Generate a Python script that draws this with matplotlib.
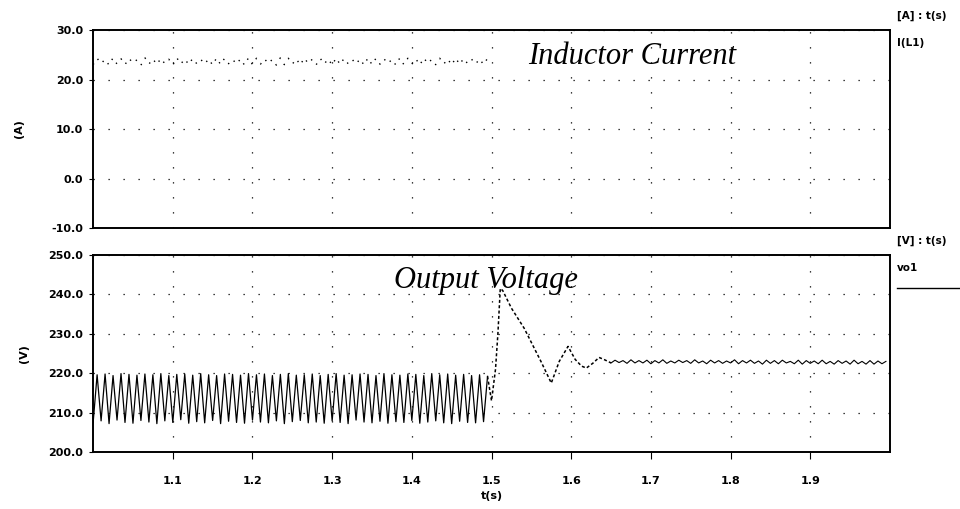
import numpy as np
import matplotlib.pyplot as plt

# ---- data ----
# 1.0 - 1.5 s : 100 Hz ripple, one trough + one peak per 10 ms
vo_trough = [207.4, 207.9, 207.2, 208.1, 207.5, 207.3, 208.0, 207.6, 207.2, 207.9,
             207.5, 208.2, 207.3, 207.7, 207.4, 208.0, 207.2, 207.8, 207.5, 207.3,
             208.1, 207.6, 207.4, 207.9, 207.2, 207.7, 208.0, 207.4, 207.6, 207.3,
             207.9, 207.5, 207.2, 208.1, 207.6, 207.4, 207.8, 207.3, 207.7, 207.5,
             208.0, 207.3, 207.6, 207.9, 207.4, 207.2, 207.8, 207.5, 207.4, 207.7]
vo_peak = [219.6, 219.8, 219.4, 219.9, 219.7, 219.5, 219.8, 219.6, 219.9, 219.4,
           219.7, 219.8, 219.5, 219.9, 219.6, 219.4, 219.8, 219.7, 219.5, 219.9,
           219.6, 219.8, 219.4, 219.7, 219.9, 219.5, 219.6, 219.8, 219.4, 219.7,
           219.9, 219.5, 219.6, 219.8, 219.7, 219.4, 219.9, 219.6, 219.5, 219.8,
           219.7, 219.4, 219.9, 219.6, 219.8, 219.5, 219.7, 219.4, 219.6, 219.2]
il_trough = [23.0, 23.2, 22.9, 23.1, 23.0, 23.3, 22.9, 23.1, 23.0, 23.2,
             22.9, 23.1, 23.0, 23.2, 23.1, 22.9, 23.0, 23.2, 23.1, 22.9,
             23.0, 23.1, 23.2, 22.9, 23.0, 23.1, 22.9, 23.2, 23.0, 23.1,
             22.9, 23.0, 23.2, 23.1, 22.9, 23.0, 23.1, 23.2, 22.9, 23.0,
             23.1, 22.9, 23.2, 23.0, 23.1, 22.9, 23.0, 23.2, 23.1, 23.0]
il_peak = [24.3, 24.1, 24.4, 24.2, 24.3, 24.0, 24.4, 24.2, 24.3, 24.1,
           24.4, 24.2, 24.3, 24.1, 24.2, 24.4, 24.3, 24.1, 24.2, 24.4,
           24.3, 24.2, 24.1, 24.4, 24.3, 24.2, 24.4, 24.1, 24.3, 24.2,
           24.4, 24.3, 24.1, 24.2, 24.4, 24.3, 24.2, 24.1, 24.4, 24.3,
           24.2, 24.4, 24.1, 24.3, 24.2, 24.4, 24.3, 24.1, 24.2, 24.3]

# step response after 1.5 s
t_trans = [1.495, 1.500, 1.505, 1.508, 1.511, 1.514, 1.525, 1.541, 1.562, 1.575,
           1.585, 1.596, 1.605, 1.613, 1.619, 1.627, 1.635, 1.642, 1.650]
vo_trans = [219.2, 213.0, 221.0, 230.0, 241.5, 241.0, 236.5, 231.4, 223.0, 217.5,
            223.0, 226.8, 223.5, 221.8, 221.3, 222.5, 224.0, 223.4, 222.6]

# settled ripple 1.65 - 2.0 s
vo_set_lo = [222.6, 222.7, 222.5, 222.6, 222.6, 222.4, 222.6, 222.5, 222.6, 222.7,
             222.5, 222.6, 222.4, 222.6, 222.5, 222.6, 222.4, 222.6, 222.5, 222.3,
             222.5, 222.4, 222.6, 222.4, 222.3, 222.5, 222.4, 222.4, 222.3, 222.5,
             222.3, 222.4, 222.3, 222.3, 222.4]
vo_set_hi = [223.3, 223.2, 223.4, 223.2, 223.3, 223.2, 223.4, 223.1, 223.3, 223.2,
             223.4, 223.1, 223.3, 223.2, 223.1, 223.4, 223.2, 223.3, 223.1, 223.3,
             223.2, 223.3, 223.0, 223.3, 223.2, 223.1, 223.3, 223.0, 223.2, 223.1,
             223.3, 223.0, 223.2, 223.1, 223.0]

half_period = 0.005

t_rip = 1.0 + half_period * np.arange(2 * len(vo_peak))
vo_rip = np.column_stack([vo_trough, vo_peak]).ravel()
il_rip = np.column_stack([il_trough, il_peak]).ravel()
t_set = 1.65 + half_period * np.arange(2 * len(vo_set_hi))
vo_set = np.column_stack([vo_set_lo, vo_set_hi]).ravel()

xticks = [1.1, 1.2, 1.3, 1.4, 1.5, 1.6, 1.7, 1.8, 1.9]

plt.rcParams['font.family'] = ['DejaVu Sans']
fig = plt.figure(figsize=(9.6, 5.09), dpi=100)
ax1 = fig.add_axes([0.097, 0.552, 0.830, 0.389])
ax2 = fig.add_axes([0.097, 0.112, 0.830, 0.387])

grid_style = dict(color='black', linestyle=(0, (1, 11)), linewidth=0.9)

# ---- inductor current ----
ax1.plot(t_rip, il_rip, color='black', linestyle=(0, (1, 5)), linewidth=1.0)
ax1.set_xlim(1.0, 2.0)
ax1.set_ylim(-10, 30)
ax1.set_yticks([-10, 0, 10, 20, 30])
ax1.set_yticklabels(['-10.0', '0.0', '10.0', '20.0', '30.0'])
ax1.set_xticks(xticks)
ax1.tick_params(axis='x', length=0, labelbottom=False)
ax1.set_ylabel('(A)', fontsize=8, fontweight='bold', labelpad=20)
ax1.grid(True, **grid_style)
ax1.text(0.676, 0.864, 'Inductor Current', transform=ax1.transAxes,
         family='Liberation Serif', style='italic', fontsize=22,
         ha='center', va='center')

# ---- output voltage ----
ax2.plot(t_rip, vo_rip, color='black', linewidth=0.9)
ax2.plot(t_trans, vo_trans, color='black', linestyle=(0, (2, 1.5)), linewidth=1.1)
ax2.plot(t_set, vo_set, color='black', linewidth=0.8)
ax2.set_xlim(1.0, 2.0)
ax2.set_ylim(200, 250)
ax2.set_yticks([200, 210, 220, 230, 240, 250])
ax2.set_yticklabels(['200.0', '210.0', '220.0', '230.0', '240.0', '250.0'])
ax2.set_xticks(xticks)
ax2.set_xticklabels([str(x) for x in xticks])
ax2.tick_params(axis='x', direction='out', length=5, pad=12)
ax2.set_xlabel('t(s)', fontsize=8, fontweight='bold', labelpad=4)
ax2.set_ylabel('(V)', fontsize=8, fontweight='bold', labelpad=14)
ax2.grid(True, **grid_style)
ax2.text(0.493, 0.873, 'Output Voltage', transform=ax2.transAxes,
         family='Liberation Serif', style='italic', fontsize=22,
         ha='center', va='center')

for ax in (ax1, ax2):
    ax.tick_params(axis='y', direction='out', length=3, pad=4)
    for lab in ax.get_xticklabels() + ax.get_yticklabels():
        lab.set_fontsize(8)
        lab.set_fontweight('bold')
    for s in ax.spines.values():
        s.set_linewidth(1.4)

# signal names on the right
fig.text(0.934, 0.968, '[A] : t(s)', fontsize=7.5, fontweight='bold', va='center')
fig.text(0.934, 0.915, 'I(L1)', fontsize=7.5, fontweight='bold', va='center')
fig.text(0.934, 0.527, '[V] : t(s)', fontsize=7.5, fontweight='bold', va='center')
fig.text(0.934, 0.474, 'vo1', fontsize=7.5, fontweight='bold', va='center')
fig.add_artist(plt.Line2D([0.934, 1.0], [0.434, 0.434], color='black', linewidth=1.0))

fig.savefig('out.png', dpi=100)
